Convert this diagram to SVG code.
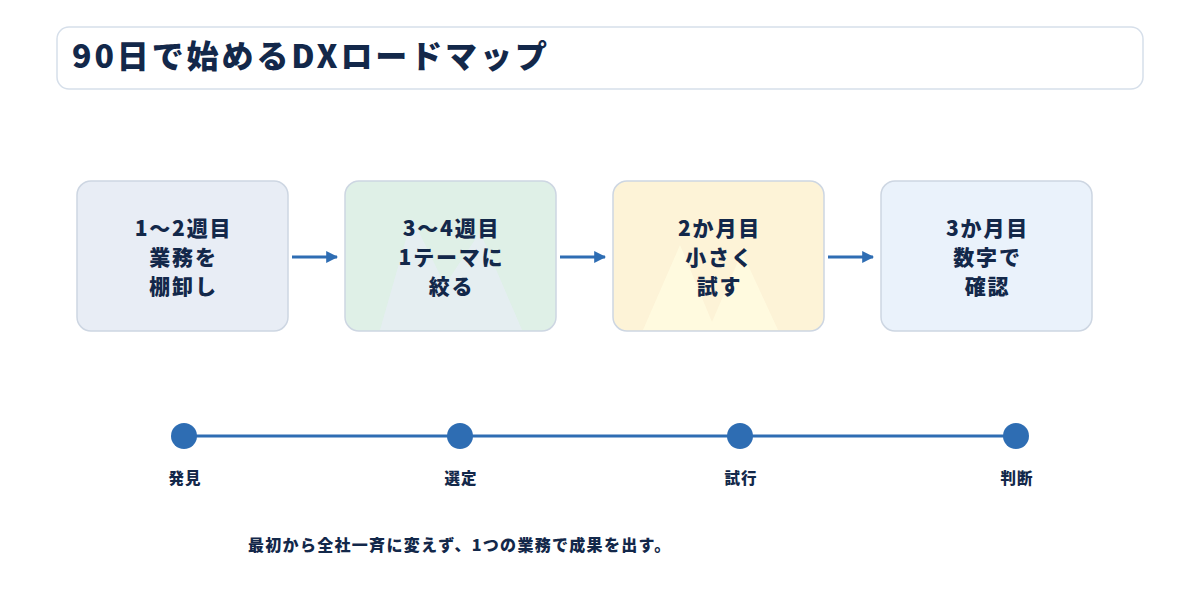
<svg xmlns="http://www.w3.org/2000/svg" width="1200" height="608" viewBox="0 0 1200 608">
<defs>
<style>
.t{font-family:"Noto Sans CJK JP","Noto Sans",sans-serif;font-weight:900;fill:#13284a}
.box{stroke:#cdd6e2;stroke-width:1.5}
.lbl{font-size:21px;text-anchor:middle;letter-spacing:1.8px}
.ms{font-size:15.5px;text-anchor:middle;letter-spacing:1px}
.dot{fill:#2e6db3}
.conn{stroke:#2e6db3;stroke-width:3;fill:none}
</style>
<marker id="ah" viewBox="0 0 10 10" refX="9" refY="5" markerWidth="4" markerHeight="4" orient="auto" markerUnits="strokeWidth"><path d="M0,0L10,5L0,10z" fill="#2e6db3"/></marker>
</defs>
<rect width="1200" height="608" fill="#ffffff"/>
<g id="title">
<rect x="57" y="27" width="1086" height="62" rx="12" fill="#ffffff" stroke="#d6dfea" stroke-width="1.5"/>
<text class="t" x="72" y="68" font-size="32" letter-spacing="2.9">90日で始めるDXロードマップ</text>
</g>
<g id="step1">
<rect class="box" x="77" y="181" width="211" height="150" rx="14" fill="#e8edf5"/>
<text class="t lbl" x="183.5" y="236">1〜2週目</text>
<text class="t lbl" x="183.5" y="265">業務を</text>
<text class="t lbl" x="183.5" y="294">棚卸し</text>
</g>
<g id="step2">
<rect class="box" x="345" y="181" width="211" height="150" rx="14" fill="#dff0e7"/>
<polygon points="380,330 412,218 445,285 480,232 522,330" fill="#e6eef4" opacity="0.8"/>
<text class="t lbl" x="451.5" y="236">3〜4週目</text>
<text class="t lbl" x="451.5" y="265">1テーマに</text>
<text class="t lbl" x="451.5" y="294">絞る</text>
</g>
<g id="step3">
<rect class="box" x="613" y="181" width="211" height="150" rx="14" fill="#fdf3d7"/>
<polygon points="643,330 680,245 712,322 742,252 778,330" fill="#fffbe0" opacity="0.9"/>
<text class="t lbl" x="719.5" y="236">2か月目</text>
<text class="t lbl" x="719.5" y="265">小さく</text>
<text class="t lbl" x="719.5" y="294">試す</text>
</g>
<g id="step4">
<rect class="box" x="881" y="181" width="211" height="150" rx="14" fill="#eaf2fb"/>
<text class="t lbl" x="987.5" y="236">3か月目</text>
<text class="t lbl" x="987.5" y="265">数字で</text>
<text class="t lbl" x="987.5" y="294">確認</text>
</g>
<g id="connectors">
<line class="conn" x1="292" y1="257" x2="337" y2="257" marker-end="url(#ah)"/>
<line class="conn" x1="560" y1="257" x2="605" y2="257" marker-end="url(#ah)"/>
<line class="conn" x1="828" y1="257" x2="873" y2="257" marker-end="url(#ah)"/>
<line class="conn" x1="184" y1="436" x2="1016" y2="436" stroke-width="4"/>
</g>
<g id="m1"><circle class="dot" cx="184" cy="436" r="13"/><text class="t ms" x="185" y="484">発見</text></g>
<g id="m2"><circle class="dot" cx="460" cy="436" r="13"/><text class="t ms" x="461" y="484">選定</text></g>
<g id="m3"><circle class="dot" cx="740" cy="436" r="13"/><text class="t ms" x="741" y="484">試行</text></g>
<g id="m4"><circle class="dot" cx="1016" cy="436" r="13"/><text class="t ms" x="1017" y="484">判断</text></g>
<g id="note">
<text class="t" x="248" y="551" font-size="16" letter-spacing="1.3">最初から全社一斉に変えず、1つの業務で成果を出す。</text>
</g>
</svg>
